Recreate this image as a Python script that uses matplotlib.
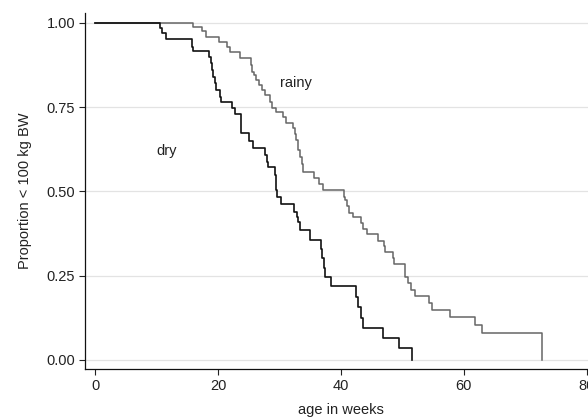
import matplotlib
matplotlib.use("Agg")
import matplotlib.pyplot as plt

# Kaplan-Meier style step data (weeks, proportion)
dry_weeks = [0, 10.5, 10.9, 11.6, 15.7, 16.0, 18.5, 18.9, 19.1, 19.2, 19.5, 19.7,
             20.4, 20.5, 22.2, 22.7, 23.7, 23.8, 25.1, 25.7, 27.7, 28.0, 28.2,
             29.2, 29.4, 29.5, 29.6, 30.3, 32.3, 32.9, 33.0, 33.4, 34.9, 36.8,
             36.9, 37.2, 37.4, 38.4, 42.4, 42.8, 43.2, 43.6, 46.8, 49.4, 51.5]
dry_surv = [1.0, 0.985, 0.969, 0.952, 0.929, 0.916, 0.899, 0.880, 0.860, 0.840,
            0.820, 0.800, 0.781, 0.764, 0.748, 0.728, 0.700, 0.672, 0.649, 0.629,
            0.608, 0.588, 0.571, 0.548, 0.526, 0.504, 0.484, 0.462, 0.440, 0.425,
            0.410, 0.385, 0.356, 0.329, 0.302, 0.272, 0.247, 0.219, 0.188, 0.158,
            0.124, 0.096, 0.064, 0.035, 0.0]

rainy_weeks = [0, 15.9, 17.4, 18.1, 20.1, 21.4, 22.0, 23.5, 25.4, 25.5, 25.9, 26.2,
               26.6, 27.2, 27.7, 28.4, 28.8, 29.5, 30.6, 31.0, 32.2, 32.6, 32.7,
               33.0, 33.3, 33.6, 33.9, 35.6, 36.4, 37.1, 40.5, 40.7, 41.0, 41.3,
               42.0, 43.2, 43.6, 44.3, 46.1, 47.0, 47.1, 48.5, 48.6, 50.4, 50.5,
               50.9, 51.4, 52.0, 54.3, 54.9, 57.7, 61.9, 62.9, 72.7]
rainy_surv = [1.0, 0.988, 0.975, 0.958, 0.944, 0.929, 0.912, 0.897, 0.875, 0.855,
              0.845, 0.830, 0.815, 0.800, 0.786, 0.766, 0.746, 0.736, 0.721, 0.704,
              0.687, 0.670, 0.652, 0.623, 0.602, 0.581, 0.558, 0.539, 0.521, 0.504,
              0.484, 0.474, 0.457, 0.437, 0.423, 0.407, 0.387, 0.373, 0.353, 0.338,
              0.319, 0.302, 0.284, 0.264, 0.245, 0.227, 0.208, 0.190, 0.168, 0.148,
              0.128, 0.104, 0.081, 0.0]

x_ticks = [0, 20, 40, 60, 80]
y_ticks = [0.0, 0.25, 0.5, 0.75, 1.0]
y_tick_labels = ["0.00", "0.25", "0.50", "0.75", "1.00"]

plt.rcParams['font.family'] = ['Liberation Sans', 'DejaVu Sans']

W, H = 588, 418
fig = plt.figure(figsize=(W / 100, H / 100), dpi=100)
fig.patch.set_facecolor("white")

left_px, right_px = 85.3, 599.0
bottom_px, top_px = 369.0, 12.7
ax = fig.add_axes([left_px / W, 1 - bottom_px / H,
                   (right_px - left_px) / W, (bottom_px - top_px) / H])
ax.set_xlim(-1.6, 82.0)
ax.set_ylim(-0.027, 1.03)

for yv in y_ticks:
    ax.axhline(yv, color="#e3e3e3", lw=0.9, zorder=0)

ax.step(rainy_weeks, rainy_surv, where="post", color="#666666", lw=1.1, zorder=3)
ax.step(dry_weeks, dry_surv, where="post", color="#111111", lw=1.2, zorder=4)

ax.text(32.6, 0.82, "rainy", fontsize=10.5, ha="center", va="center", color="#222222")
ax.text(11.6, 0.62, "dry", fontsize=10.5, ha="center", va="center", color="#222222")

ax.set_xticks(x_ticks)
ax.set_xticklabels([str(v) for v in x_ticks])
ax.set_yticks(y_ticks)
ax.set_yticklabels(y_tick_labels)
ax.tick_params(axis="both", direction="out", width=0.8,
               labelsize=10.5, color="#222222", labelcolor="#222222")
ax.tick_params(axis="x", length=4.0, pad=3.0)
ax.tick_params(axis="y", length=4.3, pad=3.0)

for side in ["top", "right"]:
    ax.spines[side].set_visible(False)
for side in ["left", "bottom"]:
    ax.spines[side].set_color("#111111")
    ax.spines[side].set_linewidth(0.9)

fig.text(25 / W, 1 - 191 / H, "Proportion < 100 kg BW", rotation=90,
         ha="center", va="center", fontsize=10.5, color="#222222")
fig.text(341 / W, 4 / H, "age in weeks", ha="center", va="baseline",
         fontsize=10.5, color="#222222")

fig.savefig("out.png", dpi=100, facecolor="white")
